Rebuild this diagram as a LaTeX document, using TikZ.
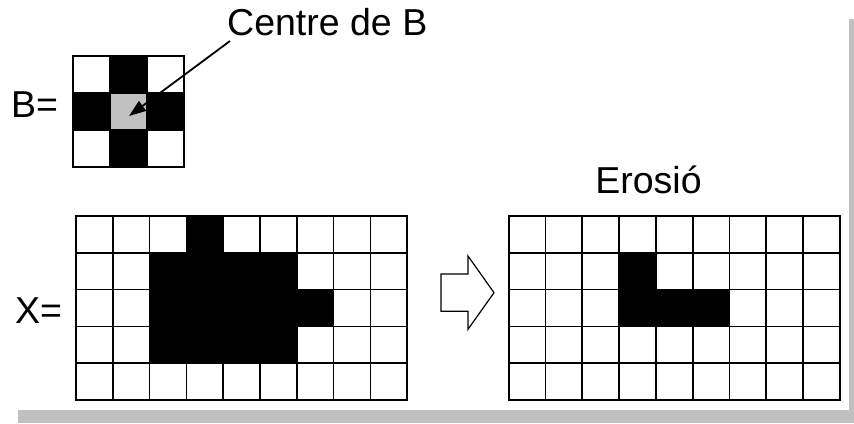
\documentclass[tikz,border=0pt]{standalone}
\usepackage{fontspec}
\setmainfont{Liberation Sans}
\usetikzlibrary{arrows.meta}
\definecolor{shadowgray}{HTML}{C0C0C0}
\definecolor{centergray}{HTML}{C0C0C0}
\begin{document}
\begin{tikzpicture}[x=1pt,y=-1pt,
  gridline/.style={line width=1.7pt, draw=black, line cap=rect},
  lbl/.style={font=\fontsize{37.5}{42}\selectfont, inner sep=0pt, text=black},
  cellfill/.style={fill=black},
  blockarrow/.style={draw=black, line width=1.2pt, fill=white, line join=miter},
  pointer/.style={draw=black, line width=1.8pt, -{Triangle[length=17pt,width=12pt]}}]
\useasboundingbox (0,0) rectangle (854,423);
% frame shadow
\fill[shadowgray] (18,410) rectangle (854,423);
\fill[shadowgray] (849,19) rectangle (854,423);

% labels
\node[lbl, anchor=base west] (centrelbl) at (227,35) {Centre de B};
\node[lbl, anchor=base west] (beq) at (11,117) {B=};
\node[lbl, anchor=base west] (xeq) at (15,323) {X=};
\node[lbl, anchor=base] (erosio) at (648.5,193) {Erosió};

% structuring element B
\node[fill=centergray, draw=none, minimum size=36.9pt, inner sep=0pt] (bcenter) at (128.35,111.35) {};
\begin{scope}[shift={(73pt,-56pt)}, x=36.9pt, y=-36.9pt]
  \foreach \k in {0,...,3} {
    \draw[gridline] (\k,0) -- (\k,3);
    \draw[gridline] (0,\k) -- (3,\k);
  }
  \fill[cellfill] (1,0) rectangle (2,1);
  \fill[cellfill] (0,1) rectangle (1,2);
  \fill[cellfill] (2,1) rectangle (3,2);
  \fill[cellfill] (1,2) rectangle (2,3);
\end{scope}

% image X
\begin{scope}[shift={(76pt,-216pt)}, x=36.8pt, y=-36.8pt]
  \foreach \k in {0,...,9} \draw[gridline] (\k,0) -- (\k,5);
  \foreach \k in {0,...,5} \draw[gridline] (0,\k) -- (9,\k);
  \fill[cellfill] (3,0) rectangle (4,1);
  \fill[cellfill] (2,1) rectangle (6,2);
  \fill[cellfill] (2,2) rectangle (7,3);
  \fill[cellfill] (2,3) rectangle (6,4);
\end{scope}

% erosion result
\begin{scope}[shift={(508.7pt,-216pt)}, x=36.8pt, y=-36.8pt]
  \foreach \k in {0,...,9} \draw[gridline] (\k,0) -- (\k,5);
  \foreach \k in {0,...,5} \draw[gridline] (0,\k) -- (9,\k);
  \fill[cellfill] (3,1) rectangle (4,2);
  \fill[cellfill] (3,2) rectangle (6,3);
\end{scope}

% block arrow
\draw[blockarrow] (441,274) -- (468,274) -- (468,256) -- (494,292.7)
  -- (468,329.3) -- (468,311.3) -- (441,311.3) -- cycle;

% pointer to the centre of B
\coordinate (pstart) at (230,41);
\coordinate (ptip) at (129,116);
\draw[pointer] (pstart) -- (ptip);
\end{tikzpicture}
\end{document}
